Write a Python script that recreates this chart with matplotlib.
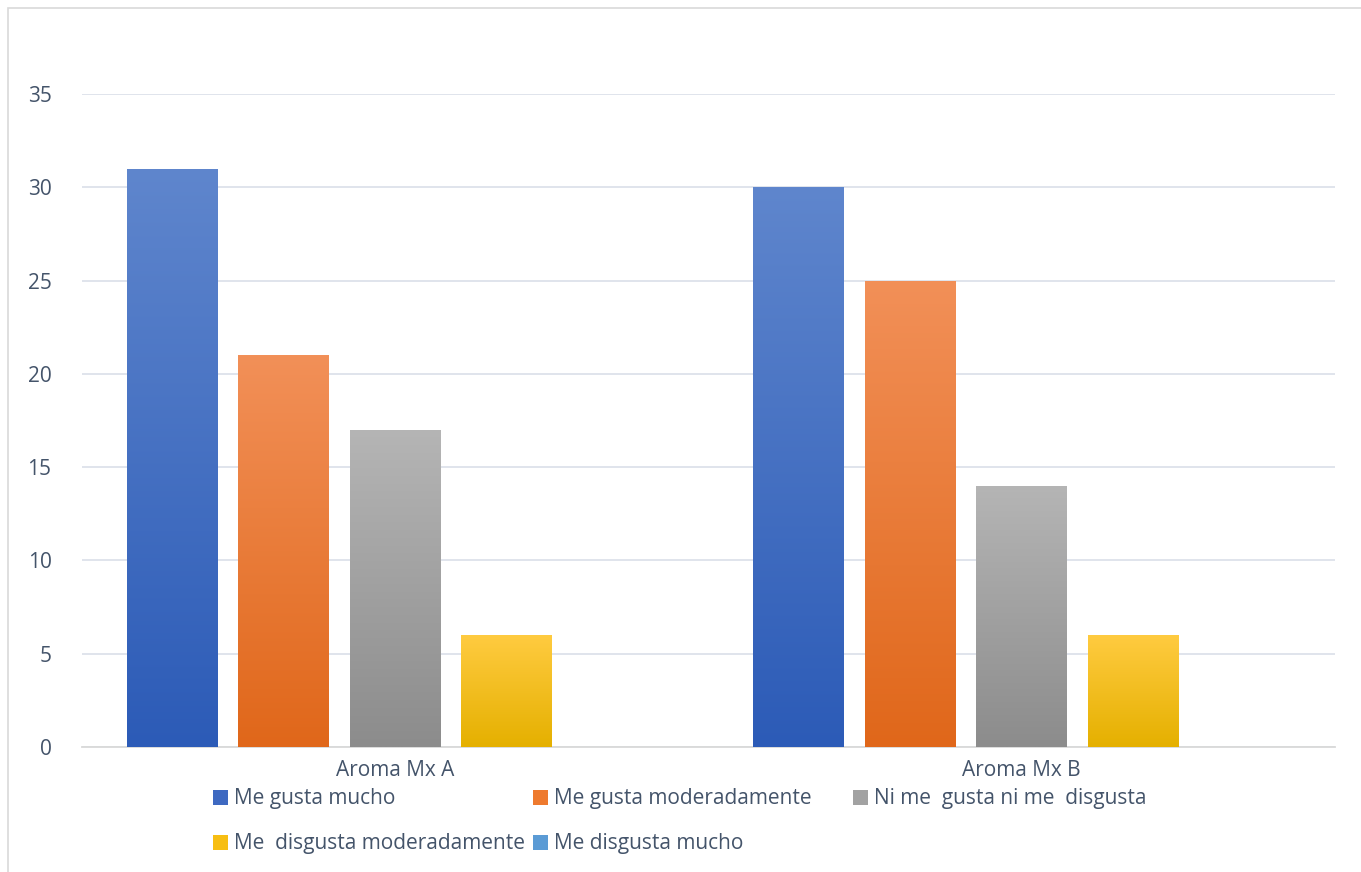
import numpy as np
import matplotlib.pyplot as plt
from matplotlib.patches import Rectangle
from matplotlib.colors import LinearSegmentedColormap

categories = ['Aroma Mx A', 'Aroma Mx B']
series = ['Me gusta mucho', 'Me gusta moderadamente', 'Ni me  gusta ni me  disgusta',
          'Me  disgusta moderadamente', 'Me disgusta mucho']
values = [
    [31, 30],
    [21, 25],
    [17, 14],
    [6, 6],
    [0, 0],
]
# (top colour, bottom colour) for the vertical gradient
grads = [
    ('#5F86CD', '#2C5BB7'),
    ('#F29058', '#E0671A'),
    ('#B5B5B5', '#8C8C8C'),
    ('#FFCB40', '#E5B000'),
    ('#6AA7DD', '#3C84C8'),
]
legend_cols = ['#3E69C1', '#EE7A2E', '#A2A2A2', '#F7BE12', '#5B9BD5']

txt_col = '#44546A'
plt.rcParams['font.family'] = ['Open Sans', 'DejaVu Sans']

fig = plt.figure(figsize=(13.61, 8.72), dpi=100)
ax = fig.add_axes([82/1361, 1-747/872, (1335-82)/1361, (747-94)/872])

# outer chart border (left/top)
fig.add_artist(Rectangle((8/1361, -0.05), 1.2, 1-8/872+0.05, transform=fig.transFigure,
                         fill=False, edgecolor='#D9D9D9', lw=1.2))

pitch = 0.178
width = 0.145
n = len(series)
x = np.arange(len(categories))
grad_img = np.linspace(1, 0, 256).reshape(-1, 1)

for i, (name, vals) in enumerate(zip(series, values)):
    cmap = LinearSegmentedColormap.from_list(name, [grads[i][1], grads[i][0]])
    offs = (i - (n - 1) / 2) * pitch
    bars = ax.bar(x + offs, vals, width, color='none', edgecolor='none', zorder=3)
    for b in bars:
        h = b.get_height()
        if h <= 0:
            continue
        x0 = b.get_x()
        im = ax.imshow(grad_img, cmap=cmap, extent=(x0, x0 + width, 0, h),
                       aspect='auto', zorder=3, vmin=0, vmax=1)
        im.set_clip_path(b)

ax.set_xlim(-0.5, 1.5)
ax.set_ylim(0, 35)
ax.set_yticks(range(0, 36, 5))
ax.set_xticks(x)
ax.set_xticklabels(categories)
ax.yaxis.grid(True, color='#DDE2EA', lw=1.3, zorder=0)
ax.set_axisbelow(True)
for s in ['top', 'right', 'left']:
    ax.spines[s].set_visible(False)
ax.spines['bottom'].set_color('#D9D9D9')
ax.spines['bottom'].set_linewidth(1.3)
ax.tick_params(axis='both', length=0, labelsize=15, colors=txt_col)
ax.tick_params(axis='y', pad=22)
ax.tick_params(axis='x', pad=9)

# legend laid out as in the source (3 columns, row-major)
col_x = [213, 533, 853]
row_y = [798, 843]
for i, name in enumerate(series):
    r, c = divmod(i, 3)
    px, py = col_x[c], row_y[r]
    sq = Rectangle((px/1361, 1-(py+7)/872), 15/1361, 15/872, transform=fig.transFigure,
                   facecolor=legend_cols[i], edgecolor='none')
    fig.add_artist(sq)
    fig.text((px+21)/1361, 1-py/872, name, fontsize=15, color=txt_col, va='center', ha='left')

fig.savefig('out.png', dpi=100)
